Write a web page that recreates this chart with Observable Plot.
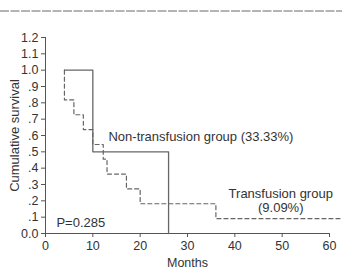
<!DOCTYPE html>
<html>
<head>
<meta charset="utf-8">
<script src="https://cdn.jsdelivr.net/npm/d3@7"></script>
<script src="https://cdn.jsdelivr.net/npm/@observablehq/plot@0.6"></script>
<style>
  html, body { margin: 0; padding: 0; background: #fff; }
  #wrap { position: relative; width: 342px; height: 274px; overflow: hidden; }
  #rule { position: absolute; left: 0; top: 9px; }
  #chart { position: absolute; left: 0; top: 0; }
  svg { font-family: "Liberation Sans", Arial, sans-serif; }
</style>
</head>
<body>
<div id="wrap">
  <svg id="rule" width="342" height="4"><line x1="0" x2="342" y1="2" y2="2" stroke="#b4b4b4" stroke-width="2" stroke-dasharray="9,1.5"/></svg>
  <div id="chart"></div>
</div>
<script>
// Kaplan–Meier steps (months, cumulative survival)
const nonTransMonths = [4, 10, 26];
const nonTransSurv   = [1.0, 0.5, 0.0];

const transMonths = [4, 4, 6, 8, 10, 12.2, 13, 17.1, 20, 36, 62.4];
const transSurv   = [1.0, 0.818, 0.727, 0.636, 0.545, 0.455, 0.364, 0.273, 0.182, 0.091, 0.091];

const xTicks = [0, 10, 20, 30, 40, 50, 60];
const yTicks = [0, 0.1, 0.2, 0.3, 0.4, 0.5, 0.6, 0.7, 0.8, 0.9, 1.0, 1.1, 1.2];

const nonTrans = nonTransMonths.map((t, i) => ({t, s: nonTransSurv[i]}));
const trans = transMonths.map((t, i) => ({t, s: transSurv[i]}));

// left-aligned and centred annotations
const notesStart = [
  {t: 13.3, s: 0.59, text: "Non-transfusion group (33.33%)"},
  {t: 2.3, s: 0.065, text: "P=0.285"}
];
const notesMiddle = [
  {t: 49.7, s: 0.245, text: "Transfusion group"},
  {t: 49.7, s: 0.16, text: "(9.09%)"}
];

const fmtY = v => v === 0 ? "0.0" : v >= 1 ? v.toFixed(1) : v.toFixed(1).replace(/^0/, "");

const chart = Plot.plot({
  width: 342,
  height: 274,
  marginLeft: 45,
  marginRight: 13,
  marginTop: 37,
  marginBottom: 41,
  style: {fontFamily: "Liberation Sans, Arial, sans-serif", fontSize: "12.5px", color: "#333", background: "transparent"},
  x: {domain: [0, 60], label: null},
  y: {domain: [0, 1.2], label: null},
  marks: [
    Plot.axisX({ticks: xTicks, tickSize: 4, tickPadding: 4, label: null, fontSize: 12.5, stroke: "#555"}),
    Plot.axisY({ticks: yTicks, tickSize: 4, tickPadding: 3, tickFormat: fmtY, label: null, fontSize: 12.5, stroke: "#555"}),
    Plot.ruleX([0], {y1: 0, y2: 1.2, stroke: "#555", strokeWidth: 1}),
    Plot.ruleY([0], {x1: 0, x2: 60, stroke: "#555", strokeWidth: 1}),
    Plot.lineY(nonTrans, {x: "t", y: "s", curve: "step-after", stroke: "#666", strokeWidth: 1.3}),
    Plot.lineY(trans, {x: "t", y: "s", curve: "step-after", stroke: "#666", strokeWidth: 1.2, strokeDasharray: "4,3"}),
    Plot.text(notesStart, {x: "t", y: "s", text: "text", textAnchor: "start", fill: "#333", fontSize: 13}),
    Plot.text(notesMiddle, {x: "t", y: "s", text: "text", textAnchor: "middle", fill: "#333", fontSize: 13}),
    Plot.text(["Months"], {frameAnchor: "bottom", dy: 33, fill: "#333", fontSize: 12.5}),
    Plot.text(["Cumulative survival"], {frameAnchor: "left", textAnchor: "middle", dx: -31, rotate: -90, fill: "#333", fontSize: 13})
  ]
});
document.getElementById("chart").appendChild(chart);
</script>
</body>
</html>
